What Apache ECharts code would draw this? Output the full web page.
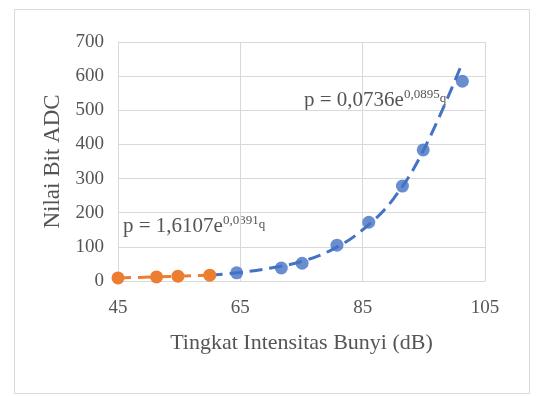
<!DOCTYPE html>
<html>
<head>
<meta charset="utf-8">
<script src="https://cdn.jsdelivr.net/npm/echarts@6/dist/echarts.min.js"></script>
<style>
  html, body { margin: 0; padding: 0; background: #fff; }
  #chart { width: 536px; height: 396px; }
</style>
</head>
<body>
<div id="chart"></div>
<script>
// data
const orangeX = [45, 51.3, 54.8, 60]
const orangeY = [9, 12, 14, 17]
const blueX = [64.4, 71.7, 75.1, 80.8, 86, 91.5, 94.9, 101.3]
const blueY = [24, 38, 52, 105, 172, 278, 384, 585]
// points along the dashed trend curve
const trendX = [60, 65, 70, 75, 80, 85, 90, 95, 101.2]
const trendY = [17, 25, 38, 57, 92, 150, 240, 385, 635]

const xTicks = [45, 65, 85, 105]
const yTicks = [0, 100, 200, 300, 400, 500, 600, 700]

const pair = (xs, ys) => xs.map((x, i) => [x, ys[i]])

const serif = '"Liberation Serif", "DejaVu Serif", serif'
const textColor = '#555555'
const gridColor = '#d9d9d9'
const blue = '#4472C4'
const orange = '#ED7D31'

const eqRich = {
  b: { fontFamily: serif, fontSize: 21, fill: textColor },
  s: { fontFamily: serif, fontSize: 13, fill: textColor, verticalAlign: 'top', padding: [0, 0, 12, 0] },
  q: { fontFamily: serif, fontSize: 13, fill: textColor, padding: [0, 0, 4, 0] }
}

const chart = echarts.init(document.getElementById('chart'))

const option = {
  backgroundColor: '#fff',
  animation: false,
  grid: { left: 118, right: 51, top: 42, bottom: 115 },
  xAxis: {
    type: 'value',
    min: xTicks[0],
    max: xTicks[xTicks.length - 1],
    interval: 20,
    name: 'Tingkat Intensitas Bunyi (dB)',
    nameLocation: 'middle',
    nameGap: 51,
    nameTextStyle: { fontFamily: serif, fontSize: 22, color: textColor },
    axisLine: { show: true, lineStyle: { color: gridColor } },
    axisTick: { show: false },
    axisLabel: { fontFamily: serif, fontSize: 19, color: textColor, margin: 18 },
    splitLine: { show: true, lineStyle: { color: gridColor, width: 1 } }
  },
  yAxis: {
    type: 'value',
    min: yTicks[0],
    max: yTicks[yTicks.length - 1],
    interval: 100,
    name: 'Nilai Bit ADC',
    nameLocation: 'middle',
    nameGap: 52,
    nameTextStyle: { fontFamily: serif, fontSize: 23, color: textColor },
    axisLine: { show: true, lineStyle: { color: gridColor } },
    axisTick: { show: false },
    axisLabel: { fontFamily: serif, fontSize: 19, color: textColor, margin: 14 },
    splitLine: { show: true, lineStyle: { color: gridColor, width: 1 } }
  },
  series: [
    {
      name: 'trend',
      type: 'line',
      data: pair(trendX, trendY),
      smooth: 0.4,
      symbol: 'none',
      lineStyle: { color: blue, width: 3, type: [13, 7] },
      z: 2
    },
    {
      name: 'orange',
      type: 'line',
      data: pair(orangeX, orangeY),
      symbol: 'circle',
      symbolSize: 13,
      itemStyle: { color: orange },
      lineStyle: { color: orange, width: 3, type: [13, 7] },
      z: 3
    },
    {
      name: 'blue',
      type: 'scatter',
      data: pair(blueX, blueY),
      symbol: 'circle',
      symbolSize: 13,
      itemStyle: { color: blue },
      z: 4
    }
  ],
  graphic: [
    {
      type: 'text',
      left: 123,
      top: 214,
      style: { text: '{b|p = 1,6107e}{s|0,0391}{q|q}', rich: eqRich }
    },
    {
      type: 'text',
      left: 304,
      top: 88,
      style: { text: '{b|p = 0,0736e}{s|0,0895}{q|q}', rich: eqRich }
    },
    {
      type: 'rect',
      shape: { x: 14.5, y: 9.5, width: 515, height: 384 },
      style: { fill: 'none', stroke: '#d9d9d9', lineWidth: 1 },
      silent: true
    }
  ]
}

chart.setOption(option)
</script>
</body>
</html>
